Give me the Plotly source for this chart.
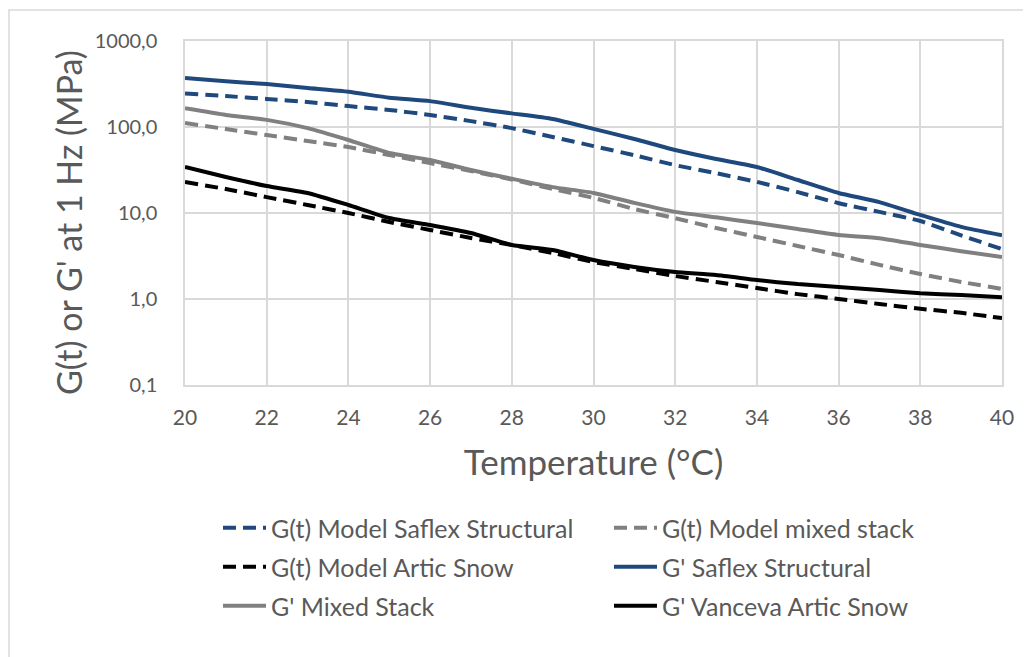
import plotly.graph_objects as go

temperature = list(range(20, 41))

model_saflex = [246, 229, 212, 195, 175, 158, 138, 117, 97, 76.5, 60, 47, 36, 29, 23, 17.5, 13, 10.3, 8.07, 5.5, 3.8]
model_mixed = [111, 94.8, 80.7, 68.7, 58.5, 47.3, 38, 30.8, 24.5, 19, 15, 11.1, 8.7, 6.7, 5.26, 4.13, 3.25, 2.49, 1.95, 1.58, 1.31]
model_artic = [22.9, 19, 15.3, 12.4, 10, 7.86, 6.35, 5.12, 4.25, 3.43, 2.69, 2.23, 1.85, 1.58, 1.34, 1.14, 1.0, 0.875, 0.77, 0.69, 0.60]
gp_saflex = [371, 340, 316, 284, 257, 219, 200, 167, 144, 124, 95, 72.6, 54, 42.5, 34.3, 24.2, 17.1, 13.4, 9.5, 6.9, 5.5]
gp_mixed = [165, 138, 121, 97, 70.6, 49.9, 41.3, 31.6, 25, 20, 17.1, 13.1, 10.3, 8.9, 7.65, 6.5, 5.55, 5.1, 4.25, 3.6, 3.08]
gp_vanceva = [34.3, 26.2, 20.6, 17.1, 12.4, 8.75, 7.25, 5.85, 4.25, 3.71, 2.84, 2.36, 2.06, 1.9, 1.66, 1.49, 1.38, 1.27, 1.17, 1.11, 1.05]

series_names = [
    "G(t) Model Saflex Structural",
    "G(t) Model mixed stack",
    "G(t) Model Artic Snow",
    "G' Saflex Structural",
    "G' Mixed Stack",
    "G' Vanceva Artic Snow",
]
series_values = [model_saflex, model_mixed, model_artic, gp_saflex, gp_mixed, gp_vanceva]
series_colors = ["#1F497D", "#808080", "#000000", "#1F497D", "#808080", "#000000"]
series_dash = ["13px,7px", "13px,7px", "13px,7px", "solid", "solid", "solid"]
series_legend = ["legend", "legend", "legend2", "legend2", "legend3", "legend3"]

y_tickvals = [0.1, 1, 10, 100, 1000]
y_ticktext = ["0,1", "1,0", "10,0", "100,0", "1000,0"]
x_tickvals = list(range(20, 41, 2))

FONT = "Lato, 'Open Sans', sans-serif"
TXT = "#595959"

fig = go.Figure()
for name, vals, col, dash, lg in zip(series_names, series_values, series_colors, series_dash, series_legend):
    fig.add_trace(go.Scatter(
        x=temperature, y=vals, name=name, mode="lines", legend=lg,
        line=dict(color=col, width=4, dash=dash, shape="spline", smoothing=0.5),
    ))

OFF = 8  # page body margin
W, H = 1031 - OFF, 657 - OFF
L, R, T, B = 185 - OFF, 29, 41 - OFF, 272
pw, ph = W - L - R, H - T - B
PX0, PY1 = 185, 385  # plot area left / bottom in window pixels


def px(x):
    return (x - PX0) / pw


def py(y):
    return (PY1 - y) / ph


leg_common = dict(
    orientation="h", x=px(218), xanchor="left", yanchor="middle",
    entrywidth=333, entrywidthmode="pixels", font=dict(size=25, color=TXT, family=FONT),
    itemwidth=43, bgcolor="rgba(0,0,0,0)",
)

fig.update_layout(
    width=W, height=H,
    margin=dict(l=L, r=R, t=T, b=B, pad=0),
    paper_bgcolor="white", plot_bgcolor="white",
    font=dict(family=FONT, color=TXT, size=21),
    xaxis=dict(
        range=[20, 40], tickvals=x_tickvals, showgrid=True, gridcolor="#D9D9D9", gridwidth=1.5,
        showline=True, linecolor="#D9D9D9", linewidth=1.5, mirror=True, zeroline=False,
        ticks="outside", ticklen=13, tickcolor="rgba(0,0,0,0)", tickfont=dict(size=21, color=TXT),
        title=dict(text="Temperature (°C)", font=dict(size=35, color=TXT), standoff=23),
    ),
    yaxis=dict(
        type="log", range=[-1, 3], tickvals=y_tickvals, ticktext=y_ticktext,
        showgrid=True, gridcolor="#D9D9D9", gridwidth=1.5,
        showline=True, linecolor="#D9D9D9", linewidth=1.5, mirror=True, zeroline=False,
        ticks="outside", ticklen=22, tickcolor="rgba(0,0,0,0)", tickfont=dict(size=20, color=TXT),
    ),
    annotations=[dict(
        text="G(t) or G' at 1 Hz (MPa)", textangle=-90, xref="paper", yref="paper",
        x=px(68), y=py(222), xanchor="center", yanchor="middle", showarrow=False,
        font=dict(size=34, color=TXT, family=FONT),
    )],
    legend=dict(y=py(528), **leg_common),
    legend2=dict(y=py(567), **leg_common),
    legend3=dict(y=py(606), **leg_common),
    shapes=[dict(
        type="rect", xref="paper", yref="paper",
        x0=px(9), x1=px(1045), y0=py(680), y1=py(10),
        line=dict(color="#D9D9D9", width=1.5), fillcolor="rgba(0,0,0,0)", layer="below",
    )],
)

fig.write_html("out.html")
